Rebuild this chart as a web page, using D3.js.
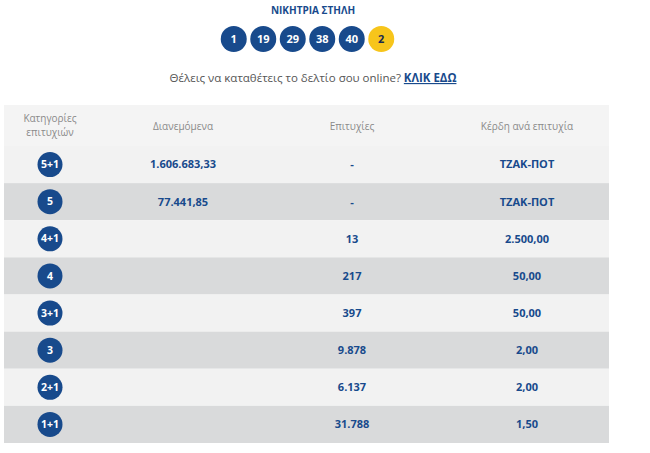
<!DOCTYPE html><html><head><meta charset="utf-8"><script src="https://d3js.org/d3.v7.min.js"></script>
<style>body{margin:0;background:#fff}</style></head><body><svg id="c" width="650" height="453"></svg>
<script>
const balls=["1","19","29","38","40"];
const bonus="2";
const categories=["5+1","5","4+1","4","3+1","3","2+1","1+1"];
const distributed=["1.606.683,33","77.441,85","","","","","",""];
const winners=["-","-","13","217","397","9.878","6.137","31.788"];
const prize=["ΤΖΑΚ-ΠΟΤ","ΤΖΑΚ-ΠΟΤ","2.500,00","50,00","50,00","2,00","2,00","1,50"];
const headers=["Κατηγορίες|επιτυχιών","Διανεμόμενα","Επιτυχίες","Κέρδη ανά επιτυχία"];
const blue="#184a8c",font="'Open Sans',sans-serif";
const svg=d3.select("#c");
svg.append("text").attr("x",313).attr("y",14).attr("text-anchor","middle").attr("font-family",font).attr("font-weight",700).attr("font-size",10).attr("fill",blue).text("ΝΙΚΗΤΡΙΑ ΣΤΗΛΗ");
const all=balls.concat([bonus]);
const bx=d3.scaleBand().domain(d3.range(all.length)).range([219,396]);
const g=svg.selectAll("g.b").data(all).join("g").attr("transform",(d,i)=>`translate(${bx(i)+bx.bandwidth()/2},39)`);
g.append("circle").attr("r",13).attr("fill",(d,i)=>i===all.length-1?"#f7c51b":blue);
g.append("text").attr("text-anchor","middle").attr("dy","0.35em").attr("font-family",font).attr("font-weight",700).attr("font-size",11).attr("fill",(d,i)=>i===all.length-1?"#1a2a50":"#fff").text(d=>d);
const t=svg.append("text").attr("x",313).attr("y",82).attr("text-anchor","middle").attr("font-family",font).attr("font-size",11.5).attr("fill","#555");
t.append("tspan").text("Θέλεις να καταθέτεις το δελτίο σου online? ");
t.append("tspan").attr("font-weight",700).attr("fill",blue).attr("text-decoration","underline").text("ΚΛΙΚ ΕΔΩ");
svg.append("rect").attr("x",4).attr("y",105).attr("width",605).attr("height",41).attr("fill","#f4f4f4");
const cols=[50,183,352,527];
headers.forEach((h,i)=>{const lines=h.split("|");lines.forEach((l,j)=>svg.append("text").attr("x",cols[i]).attr("y",lines.length>1?122+j*14:130).attr("text-anchor","middle").attr("font-family",font).attr("font-size",10).attr("fill","#8a8a8a").text(l));});
const y=d3.scaleBand().domain(d3.range(categories.length)).range([146,443]);
const r=svg.selectAll("g.r").data(categories).join("g").attr("transform",(d,i)=>`translate(0,${y(i)})`);
r.append("rect").attr("x",4).attr("width",605).attr("height",y.bandwidth()).attr("fill",(d,i)=>i%2?"#d9dadb":"#f2f2f2");
const cy=y.bandwidth()/2;
r.append("circle").attr("cx",cols[0]).attr("cy",cy).attr("r",12.5).attr("fill",blue);
r.append("text").attr("x",cols[0]).attr("y",cy).attr("dy","0.35em").attr("text-anchor","middle").attr("font-family",font).attr("font-weight",700).attr("font-size",10.5).attr("fill","#fff").text(d=>d);
[distributed,winners,prize].forEach((arr,k)=>{r.append("text").attr("x",cols[k+1]).attr("y",cy).attr("dy","0.35em").attr("text-anchor","middle").attr("font-family",font).attr("font-weight",700).attr("font-size",11).attr("fill",blue).text((d,i)=>arr[i]);});
</script></body></html>
